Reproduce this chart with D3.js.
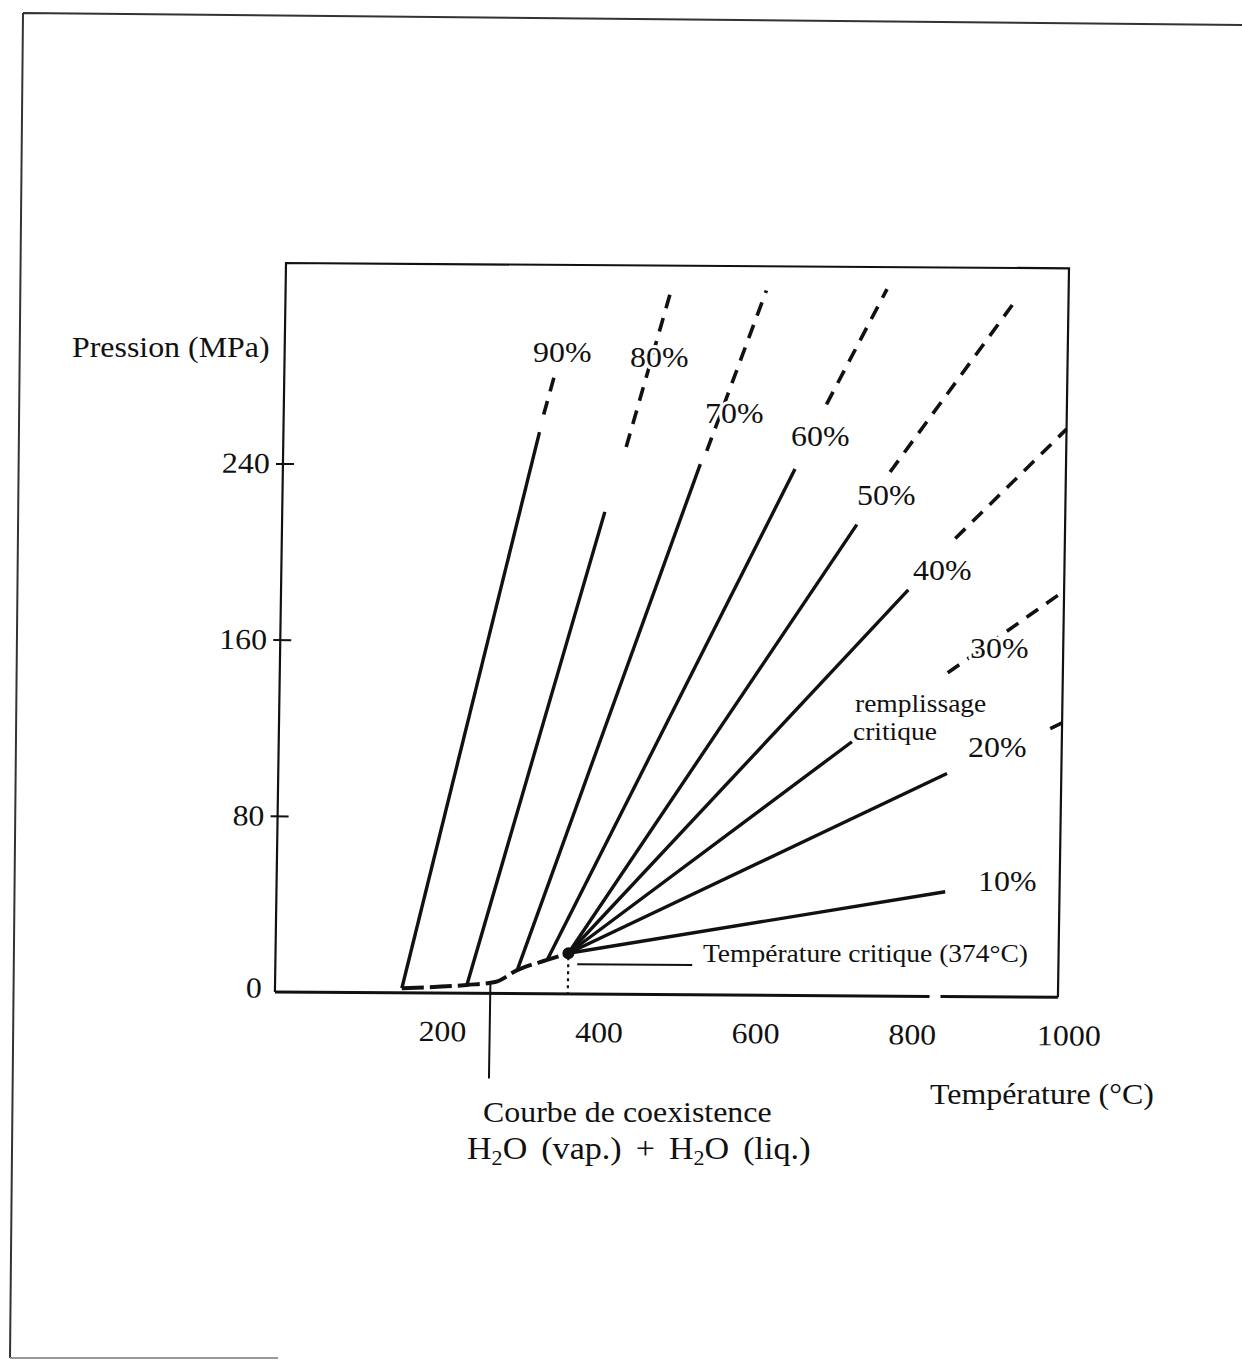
<!DOCTYPE html>
<html>
<head>
<meta charset="utf-8">
<script src="https://cdn.jsdelivr.net/npm/d3@7"></script>
<style>
  html, body { margin: 0; padding: 0; background: #fff; }
  svg { display: block; }
  text { font-family: "Liberation Serif", "Times New Roman", serif; fill: #111; }
</style>
</head>
<body>
<svg id="chart" width="1242" height="1362"></svg>
<script>
// Isochores of pure water in a closed vessel: pressure (MPa) against
// temperature (°C) for several fill ratios, starting on the
// liquid–vapour coexistence curve and meeting at the critical point.

const xTicks = [200, 400, 600, 800, 1000];
const yTicks = [0, 80, 160, 240];

// liquid–vapour coexistence curve
const coexT = [162, 245, 281, 309, 347, 374];
const coexP = [2.1, 3.8, 5.2, 10.7, 15.4, 18.5];

// critical point
const critT = 374;
const critP = 18.5;

// point of the coexistence curve picked out by the caption
const coexPointer = [275, 4.8];

// each isochore: measured part (solid) and extrapolated part (dashed), [T, P]
const iso90Solid  = [[162, 2.1], [327, 255]];
const iso90Dashed = [[332, 263], [346, 282]];
const iso80Solid  = [[245, 3.8], [412, 219]];
const iso80Dashed = [[438, 248.5], [491, 318]];
const iso70Solid  = [[309, 10.7], [533, 241]];
const iso70Dashed = [[541, 247], [614, 320]];
const iso60Solid  = [[347, 15.4], [654, 239]];
const iso60Dashed = [[693, 268.5], [768, 321]];
const iso50Solid  = [[374, 18.5], [734, 214]];
const iso50Dashed = [[775.5, 238], [934, 317]];
const iso40Solid  = [[374, 18.5], [801, 184.5]];
const iso40Dashed = [[860, 208], [1000, 258]];
const iso30Solid  = [[374, 18.5], [732, 115.4]];
const iso30Dashed = [[853, 147], [998, 184]];
const iso20Solid  = [[374, 18.5], [854, 101.3]];
const iso20Dashed = [[985, 122], [1000, 124.6]];
const iso10Solid  = [[374, 18.5], [854, 47.6]];
const iso10Dashed = [];

const fillLabels = ["90%", "80%", "70%", "60%", "50%", "40%", "30%", "20%", "10%"];
const isochores = [
  { label: fillLabels[0], solid: iso90Solid, dashed: iso90Dashed },
  { label: fillLabels[1], solid: iso80Solid, dashed: iso80Dashed },
  { label: fillLabels[2], solid: iso70Solid, dashed: iso70Dashed },
  { label: fillLabels[3], solid: iso60Solid, dashed: iso60Dashed },
  { label: fillLabels[4], solid: iso50Solid, dashed: iso50Dashed },
  { label: fillLabels[5], solid: iso40Solid, dashed: iso40Dashed },
  { label: fillLabels[6], solid: iso30Solid, dashed: iso30Dashed },
  { label: fillLabels[7], solid: iso20Solid, dashed: iso20Dashed },
  { label: fillLabels[8], solid: iso10Solid, dashed: iso10Dashed }
];

// ---------------------------------------------------------------------
const INK = "#111";
const svg = d3.select("#chart");

const x = d3.scaleLinear().domain([0, 1000]).range([286, 1069]);
const y = d3.scaleLinear().domain([0, 331]).range([992, 263]);
const line = d3.line().x(d => x(d[0])).y(d => y(d[1]));

// page frame
svg.append("path")
  .attr("d", "M23,13 L1242,25 M23,13 L10,1358")
  .attr("fill", "none").attr("stroke", "#333").attr("stroke-width", 2);
svg.append("path")
  .attr("d", "M10,1358 L278,1358")
  .attr("fill", "none").attr("stroke", "#999").attr("stroke-width", 2);

// the figure sits slightly askew on the page
const plot = svg.append("g")
  .attr("transform", "matrix(1,0.0068,-0.0152,1,4,-1.94)");

const [x0, x1] = x.range();
const [yb, yt] = y.range();

// plot frame: left axis, top, right
plot.append("path")
  .attr("d", `M${x0},${yb} L${x0},${yt} L${x1},${yt} L${x1},${yb}`)
  .attr("fill", "none").attr("stroke", INK).attr("stroke-width", 2.2);

// temperature axis (with the small break near 840 °C)
plot.append("path")
  .attr("d", `M${x0},${yb} L${x(836)},${yb} M${x(850)},${yb} L${x1},${yb}`)
  .attr("fill", "none").attr("stroke", INK).attr("stroke-width", 3);

// pressure axis ticks and labels
const yAxis = plot.append("g")
  .attr("transform", `translate(${x0},0)`)
  .call(d3.axisLeft(y).tickValues(yTicks).tickSize(7).tickPadding(5));
yAxis.select(".domain").remove();
yAxis.selectAll(".tick line")
  .attr("x1", 11).attr("stroke", INK).attr("stroke-width", 2)
  .filter(d => d === 0).remove();
yAxis.selectAll(".tick text")
  .attr("font-size", 29).attr("font-family", null).attr("fill", INK)
  .attr("transform", "scale(1.1,1)")
  .attr("y", d => d === 0 ? -4 : 0);

// temperature axis labels (no tick marks)
const xAxis = plot.append("g")
  .attr("transform", `translate(0,${yb})`)
  .call(d3.axisBottom(x).tickValues(xTicks).tickSize(0).tickFormat(d3.format("d")));
xAxis.select(".domain").remove();
xAxis.selectAll(".tick text")
  .attr("font-size", 29).attr("font-family", null).attr("fill", INK)
  .attr("y", 48).attr("dy", 0)
  .attr("transform", "translate(11,0) scale(1.1,1)");

// coexistence curve
const coexPts = coexT.map((t, i) => [t, coexP[i]]);
plot.append("path")
  .attr("d", line.curve(d3.curveMonotoneX)(coexPts))
  .attr("fill", "none").attr("stroke", INK).attr("stroke-width", 4)
  .attr("stroke-dasharray", "22,6");
line.curve(d3.curveLinear);

// isochores
const isoG = plot.append("g").attr("fill", "none").attr("stroke", INK);
isoG.selectAll("path.solid")
  .data(isochores).join("path")
  .attr("class", "solid")
  .attr("d", d => line(d.solid))
  .attr("stroke-width", 3.4);
isoG.selectAll("path.dashed")
  .data(isochores.filter(d => d.dashed.length)).join("path")
  .attr("class", "dashed")
  .attr("d", d => line(d.dashed))
  .attr("stroke-width", 3.6)
  .attr("stroke-dasharray", "14,10");

// critical point, its temperature drop line and leader
plot.append("line")
  .attr("x1", x(critT)).attr("x2", x(critT))
  .attr("y1", y(critP) + 4).attr("y2", y(0))
  .attr("stroke", INK).attr("stroke-width", 2.2).attr("stroke-dasharray", "3,4");
plot.append("circle")
  .attr("cx", x(critT)).attr("cy", y(critP)).attr("r", 6).attr("fill", INK);
plot.append("line")
  .attr("x1", x(critT) + 9).attr("x2", x(critT) + 124)
  .attr("y1", y(critP) + 11).attr("y2", y(critP) + 11)
  .attr("stroke", INK).attr("stroke-width", 2);

// pointer to the coexistence curve
plot.append("line")
  .attr("x1", x(coexPointer[0])).attr("x2", x(coexPointer[0]))
  .attr("y1", y(coexPointer[1])).attr("y2", y(0) + 85)
  .attr("stroke", INK).attr("stroke-width", 2);

// ---------------------------------------------------------------------
// text
const txt = svg.append("g");
function put(str, px, py, size, halo) {
  const t = txt.append("text")
    .attr("transform", `translate(${px},${py}) scale(1.1,1)`)
    .attr("font-size", size)
    .text(str);
  if (halo) {
    t.attr("stroke", "#fff").attr("stroke-width", 6)
     .attr("stroke-linejoin", "round").attr("paint-order", "stroke");
  }
  return t;
}

put("Pression (MPa)", 72, 357, 29);

const labelPos = {
  "90%": [533, 362], "80%": [630, 367], "70%": [705, 423],
  "60%": [791, 446], "50%": [857, 505], "40%": [913, 580],
  "30%": [970, 658], "20%": [968, 757], "10%": [978, 891]
};
isochores.forEach(d => {
  const p = labelPos[d.label];
  put(d.label, p[0], p[1], 29, true);
});

put("remplissage", 855, 712, 25, true);
put("critique", 853, 740, 25, true);
put("Température critique (374°C)", 703, 962, 25, true);

put("Température (°C)", 930, 1104, 29);
put("Courbe de coexistence", 483, 1122, 29);

const h2o = txt.append("text")
  .attr("transform", "translate(467,1159) scale(1.1,1)")
  .attr("font-size", 31)
  .attr("word-spacing", 5);
h2o.append("tspan").text("H");
h2o.append("tspan").attr("font-size", 20).attr("dy", 6).text("2");
h2o.append("tspan").attr("dy", -6).text("O (vap.) + H");
h2o.append("tspan").attr("font-size", 20).attr("dy", 6).text("2");
h2o.append("tspan").attr("dy", -6).text("O (liq.)");
</script>
</body>
</html>
